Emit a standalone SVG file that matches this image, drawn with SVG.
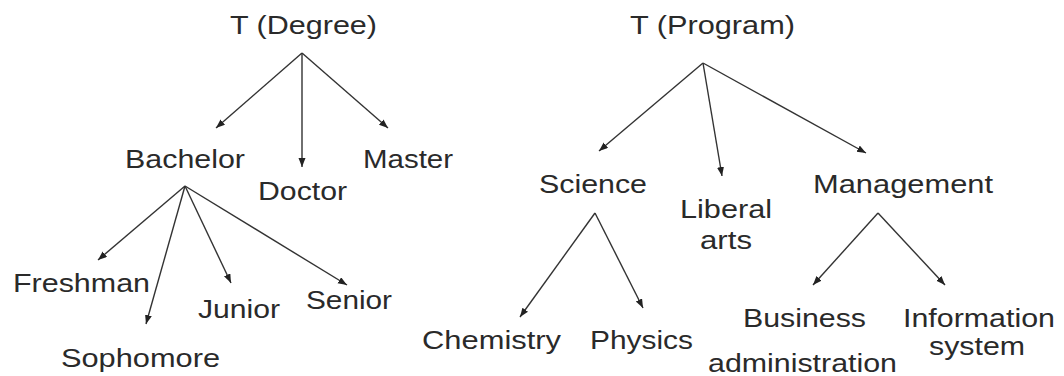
<svg xmlns="http://www.w3.org/2000/svg" width="1064" height="376" viewBox="0 0 1064 376">
<defs>
<style>
text{font-family:"Liberation Sans",Arial,sans-serif;font-size:26px;fill:#2a2a2a;}
.c line{stroke:#333;stroke-width:1.4;marker-end:url(#ah);}
</style>
<marker id="ah" markerUnits="userSpaceOnUse" markerWidth="10" markerHeight="8" refX="9" refY="3.5" orient="auto">
<path d="M0,0 L9,3.5 L0,7 z" fill="#222"/>
</marker>
</defs>
<rect width="1064" height="376" fill="#fff"/>
<g class="c" id="connectors">
<line x1="302" y1="53" x2="216" y2="128"/>
<line x1="302" y1="53" x2="302" y2="167"/>
<line x1="302" y1="53" x2="388" y2="128"/>
<line x1="185" y1="186" x2="98" y2="260"/>
<line x1="185" y1="186" x2="146" y2="324"/>
<line x1="185" y1="186" x2="231" y2="283"/>
<line x1="185" y1="186" x2="347" y2="285"/>
<line x1="703" y1="63" x2="599" y2="151"/>
<line x1="703" y1="63" x2="722" y2="176"/>
<line x1="703" y1="63" x2="866" y2="153"/>
<line x1="595" y1="213" x2="520" y2="317"/>
<line x1="595" y1="213" x2="643" y2="308"/>
<line x1="878" y1="213" x2="813" y2="285"/>
<line x1="878" y1="213" x2="945" y2="285"/>
</g>
<g id="degree"><text x="230" y="34" textLength="147" lengthAdjust="spacingAndGlyphs">T (Degree)</text></g>
<g id="program"><text x="630" y="34" textLength="165" lengthAdjust="spacingAndGlyphs">T (Program)</text></g>
<g id="bachelor"><text x="125" y="168" textLength="120" lengthAdjust="spacingAndGlyphs">Bachelor</text></g>
<g id="doctor"><text x="258" y="200" textLength="89" lengthAdjust="spacingAndGlyphs">Doctor</text></g>
<g id="master"><text x="363" y="168" textLength="90" lengthAdjust="spacingAndGlyphs">Master</text></g>
<g id="freshman"><text x="13" y="292" textLength="137" lengthAdjust="spacingAndGlyphs">Freshman</text></g>
<g id="sophomore"><text x="61" y="367" textLength="159" lengthAdjust="spacingAndGlyphs">Sophomore</text></g>
<g id="junior"><text x="198" y="318" textLength="82" lengthAdjust="spacingAndGlyphs">Junior</text></g>
<g id="senior"><text x="306" y="309" textLength="86" lengthAdjust="spacingAndGlyphs">Senior</text></g>
<g id="science"><text x="539" y="193" textLength="108" lengthAdjust="spacingAndGlyphs">Science</text></g>
<g id="liberal-arts"><text x="680" y="218" textLength="92" lengthAdjust="spacingAndGlyphs">Liberal</text><text x="700" y="249" textLength="52" lengthAdjust="spacingAndGlyphs">arts</text></g>
<g id="management"><text x="813" y="193" textLength="180" lengthAdjust="spacingAndGlyphs">Management</text></g>
<g id="chemistry"><text x="422" y="349" textLength="139" lengthAdjust="spacingAndGlyphs">Chemistry</text></g>
<g id="physics"><text x="590" y="349" textLength="103" lengthAdjust="spacingAndGlyphs">Physics</text></g>
<g id="business-administration"><text x="743" y="327" textLength="123" lengthAdjust="spacingAndGlyphs">Business</text><text x="708" y="372" textLength="189" lengthAdjust="spacingAndGlyphs">administration</text></g>
<g id="information-system"><text x="903" y="327" textLength="152" lengthAdjust="spacingAndGlyphs">Information</text><text x="929" y="355" textLength="96" lengthAdjust="spacingAndGlyphs">system</text></g>
</svg>
